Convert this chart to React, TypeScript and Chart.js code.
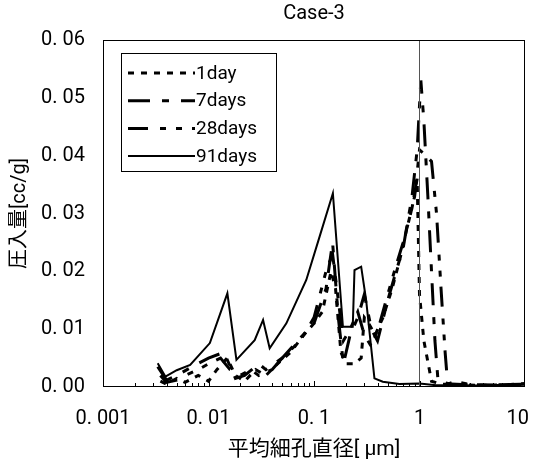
import React, { useEffect, useRef } from 'react';
import { Chart, registerables } from 'chart.js';

Chart.register(...registerables);

const FONT = "Roboto, 'Noto Sans CJK JP', sans-serif";

const chartTitle = 'Case-3';
const xAxisTitle = '平均細孔直径[ μm]';
const yAxisTitle = '圧入量[cc/g]';
const xTickValues = [0.001, 0.01, 0.1, 1, 10];
const xTickLabels = ['0. 001', '0. 01', '0. 1', '1', '10\u2002\u2009'];
const yTickValues = [0, 0.01, 0.02, 0.03, 0.04, 0.05, 0.06];
const yTickLabels = ['0. 00', '0. 01', '0. 02', '0. 03', '0. 04', '0. 05', '0. 06'];
const seriesNames = ['1day', '7days', '28days', '91days'];

const x1day = [0.0035, 0.004, 0.005, 0.006, 0.008, 0.01, 0.012, 0.015, 0.018, 0.022, 0.028, 0.035, 0.045, 0.06, 0.08, 0.1, 0.12, 0.145, 0.16, 0.18, 0.2, 0.24, 0.28, 0.3, 0.33, 0.38, 0.45, 0.55, 0.65, 0.75, 0.85, 0.95, 1.0, 1.1, 1.3, 1.6, 2.5, 5, 10];
const y1day = [0.001, 0.0005, 0.0015, 0.0008, 0.002, 0.001, 0.003, 0.005, 0.002, 0.001, 0.003, 0.002, 0.004, 0.006, 0.009, 0.011, 0.013, 0.02, 0.017, 0.006, 0.004, 0.004, 0.005, 0.012, 0.011, 0.009, 0.012, 0.017, 0.022, 0.027, 0.031, 0.036, 0.016, 0.008, 0.001, 0.0005, 0.0004, 0.0002, 0.0006];

const x7days = [0.0033, 0.004, 0.005, 0.007, 0.01, 0.014, 0.018, 0.022, 0.03, 0.035, 0.05, 0.07, 0.1, 0.13, 0.15, 0.17, 0.19, 0.22, 0.26, 0.3, 0.35, 0.4, 0.5, 0.6, 0.7, 0.85, 0.95, 1.03, 1.1, 1.2, 1.3, 1.4, 1.5, 2, 4, 10];
const y7days = [0.0035, 0.0012, 0.002, 0.0035, 0.005, 0.006, 0.0015, 0.002, 0.004, 0.003, 0.005, 0.008, 0.011, 0.017, 0.025, 0.012, 0.004, 0.009, 0.012, 0.016, 0.01, 0.008, 0.015, 0.02, 0.024, 0.033, 0.041, 0.053, 0.046, 0.033, 0.02, 0.008, 0.001, 0.0005, 0.0003, 0.0005];

const x28days = [0.0035, 0.004, 0.005, 0.006, 0.008, 0.01, 0.013, 0.016, 0.02, 0.025, 0.03, 0.04, 0.05, 0.065, 0.08, 0.1, 0.13, 0.15, 0.17, 0.19, 0.22, 0.26, 0.3, 0.35, 0.42, 0.5, 0.6, 0.7, 0.8, 0.9, 1.0, 1.15, 1.3, 1.45, 1.6, 1.75, 1.85, 2.2, 3, 10];
const y28days = [0.002, 0.0008, 0.0012, 0.002, 0.003, 0.004, 0.005, 0.003, 0.002, 0.003, 0.002, 0.003, 0.005, 0.007, 0.009, 0.012, 0.02, 0.023, 0.015, 0.008, 0.01, 0.013, 0.009, 0.007, 0.011, 0.016, 0.021, 0.025, 0.029, 0.033, 0.041, 0.04, 0.039, 0.03, 0.017, 0.006, 0.0005, 0.001, 0.0004, 0.0003];

const x91days = [0.0033, 0.0039, 0.005, 0.0067, 0.0103, 0.0151, 0.0184, 0.0274, 0.0329, 0.038, 0.0547, 0.0845, 0.113, 0.151, 0.188, 0.233, 0.242, 0.28, 0.312, 0.374, 0.449, 0.645, 1.0, 1.44, 2.5, 5, 10];
const y91days = [0.0041, 0.0018, 0.0029, 0.0038, 0.0076, 0.0162, 0.0047, 0.0081, 0.0116, 0.0067, 0.011, 0.0185, 0.026, 0.0335, 0.0104, 0.0104, 0.0202, 0.0208, 0.015, 0.0015, 0.0009, 0.0005, 0.0006, 0.0003, 0.0003, 0.0002, 0.0004];

const refLineX = [1, 1];
const refLineY = [0, 0.06];

const pts = (xs: number[], ys: number[]) => xs.map((x, i) => ({ x, y: ys[i] }));

const seriesStyles = [
  { dash: [6, 7], width: 3 },
  { dash: [22, 12, 7, 12], width: 3 },
  { dash: [20, 12, 6, 10, 6, 10], width: 3 },
  { dash: [], width: 2 },
];

const overlayPlugin = {
  id: 'overlay',
  afterDraw(chart: any) {
    const { ctx, chartArea: a, scales } = chart;
    ctx.save();
    ctx.strokeStyle = '#000';
    ctx.lineWidth = 1;
    ctx.setLineDash([]);
    ctx.strokeRect(a.left + 0.5, a.top + 0.5, a.width - 1, a.height - 1);
    const xs = scales.x;
    ctx.beginPath();
    for (let d = -3; d < 1; d++) {
      for (let k = 1; k < 10; k++) {
        const v = k * Math.pow(10, d);
        const px = Math.round(xs.getPixelForValue(v)) + 0.5;
        const len = k === 1 ? 6 : 4;
        ctx.moveTo(px, a.bottom);
        ctx.lineTo(px, a.bottom - len);
      }
    }
    ctx.stroke();
    const lx = a.left + 18;
    const ly = a.top + 13;
    const lw = 155;
    const lh = 118;
    ctx.fillStyle = '#fff';
    ctx.fillRect(lx, ly, lw, lh);
    ctx.strokeStyle = '#000';
    ctx.lineWidth = 1;
    ctx.strokeRect(lx + 0.5, ly + 0.5, lw, lh);
    ctx.font = `19px ${FONT}`;
    ctx.textBaseline = 'middle';
    ctx.textAlign = 'left';
    seriesNames.forEach((name, i) => {
      const y = ly + 20 + i * 27.7;
      const st = seriesStyles[i];
      ctx.beginPath();
      ctx.setLineDash(st.dash);
      ctx.lineWidth = st.width;
      ctx.strokeStyle = '#000';
      ctx.moveTo(lx + 7, y);
      ctx.lineTo(lx + 74, y);
      ctx.stroke();
      ctx.setLineDash([]);
      ctx.fillStyle = '#000';
      ctx.fillText(name, lx + 75, y + 1);
    });
    ctx.restore();
  },
};

export default function App() {
  const ref = useRef<HTMLCanvasElement>(null);
  useEffect(() => {
    if (!ref.current) return;
    const seriesX = [x1day, x7days, x28days, x91days];
    const seriesY = [y1day, y7days, y28days, y91days];
    const datasets: any[] = [
      {
        label: 'x=1',
        data: pts(refLineX, refLineY),
        borderColor: '#555',
        borderWidth: 1,
        pointRadius: 0,
      },
      ...seriesNames.map((name, i) => ({
        label: name,
        data: pts(seriesX[i], seriesY[i]),
        borderColor: '#000',
        borderWidth: seriesStyles[i].width,
        borderDash: seriesStyles[i].dash,
        pointRadius: 0,
        tension: 0,
        fill: false,
      })),
    ];
    const chart = new Chart(ref.current, {
      type: 'line',
      data: { datasets },
      plugins: [overlayPlugin],
      options: {
        responsive: false,
        animation: false,
        layout: { padding: { left: 0, right: 9, top: 0, bottom: 0 } },
        plugins: {
          legend: { display: false },
          tooltip: { enabled: false },
          title: {
            display: true,
            text: chartTitle,
            fullSize: false,
            color: '#000',
            font: { family: FONT, size: 20, weight: 'normal' },
            padding: { top: 2, bottom: 14 },
          },
        },
        scales: {
          x: {
            type: 'logarithmic',
            min: 0.001,
            max: 10,
            grid: { display: false, drawTicks: false },
            border: { display: false },
            afterBuildTicks: (scale: any) => {
              scale.ticks = xTickValues.map((v) => ({ value: v }));
            },
            afterFit: (scale: any) => {
              scale.height = 79;
              scale.paddingLeft = 0;
              scale.paddingRight = 0;
            },
            ticks: {
              autoSkip: false,
              maxRotation: 0,
              padding: 20,
              color: '#000',
              font: { family: FONT, size: 20 },
              callback: (v: any) => {
                const i = xTickValues.findIndex((t) => Math.abs(t - Number(v)) < 1e-9);
                return i >= 0 ? xTickLabels[i] : '';
              },
            },
            title: {
              display: true,
              text: xAxisTitle,
              color: '#000',
              font: { family: FONT, size: 21 },
              padding: { top: 0, bottom: 4 },
            },
          },
          y: {
            type: 'linear',
            min: 0,
            max: 0.06,
            grid: { display: false, drawTicks: false },
            border: { display: false },
            afterBuildTicks: (scale: any) => {
              scale.ticks = yTickValues.map((v) => ({ value: v }));
            },
            afterFit: (scale: any) => {
              scale.width = 103;
              scale.paddingTop = 0;
              scale.paddingBottom = 0;
            },
            ticks: {
              padding: 18,
              color: '#000',
              font: { family: FONT, size: 20 },
              callback: (v: any) => {
                const i = yTickValues.findIndex((t) => Math.abs(t - Number(v)) < 1e-9);
                return i >= 0 ? yTickLabels[i] : '';
              },
            },
            title: {
              display: true,
              text: yAxisTitle,
              color: '#000',
              font: { family: FONT, size: 20 },
              padding: { top: 8, bottom: 0 },
            },
          },
        },
      },
    });
    return () => chart.destroy();
  }, []);
  return (
    <div style={{ position: 'fixed', left: 0, top: 0, width: 534, height: 466, background: '#fff' }}>
      <canvas ref={ref} width={534} height={466} style={{ display: 'block' }} />
    </div>
  );
}
